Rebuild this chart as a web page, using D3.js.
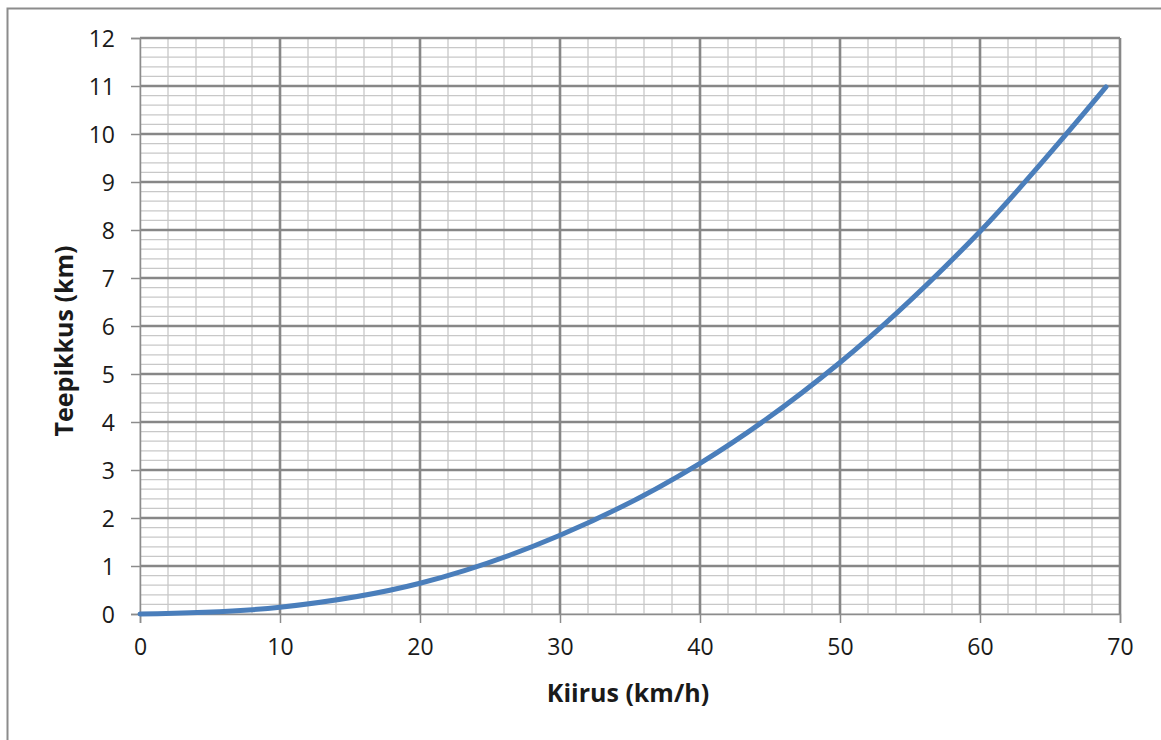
<!DOCTYPE html>
<html>
<head>
<meta charset="utf-8">
<script src="https://cdn.jsdelivr.net/npm/d3@7"></script>
<style>
  body { margin: 0; background: #fff; }
  svg { display: block; font-family: "Open Sans", sans-serif; }
</style>
</head>
<body>
<svg width="1161" height="740"></svg>
<script>
// speed (km/h) and distance (km)
var speeds = [0, 10, 20, 30, 40, 50, 60, 69];
var distances = [0.0, 0.14, 0.64, 1.64, 3.14, 5.24, 7.97, 10.98];
var xTicks = [0, 10, 20, 30, 40, 50, 60, 70];
var yTicks = [0, 1, 2, 3, 4, 5, 6, 7, 8, 9, 10, 11, 12];
var xTitle = "Kiirus (km/h)";
var yTitle = "Teepikkus (km)";

var data = speeds.map(function(s, i) { return {x: s, y: distances[i]}; });

var svg = d3.select("svg"),
    margin = {top: 38, right: 41, bottom: 126, left: 140},
    width = +svg.attr("width") - margin.left - margin.right,
    height = +svg.attr("height") - margin.top - margin.bottom;

// chart frame
svg.append("rect")
    .attr("x", 7.5).attr("y", 8.5)
    .attr("width", 1200).attr("height", 800)
    .attr("fill", "none")
    .attr("stroke", "#8c8c8c")
    .attr("stroke-width", 2);

var x = d3.scaleLinear().domain([0, 70]).range([0, width]);
var y = d3.scaleLinear().domain([0, 12]).range([height, 0]);

var g = svg.append("g")
    .attr("transform", "translate(" + margin.left + "," + margin.top + ")");

// minor grid
var xMinor = d3.range(0, 70.01, 2);
var yMinor = d3.range(0, 12.01, 0.2);

g.append("g").selectAll("line")
    .data(yMinor)
    .enter().append("line")
        .attr("x1", 0).attr("x2", width)
        .attr("y1", function(d) { return y(d); })
        .attr("y2", function(d) { return y(d); })
        .attr("stroke", "#c8c8c8")
        .attr("stroke-width", 1.3);

g.append("g").selectAll("line")
    .data(xMinor)
    .enter().append("line")
        .attr("y1", 0).attr("y2", height)
        .attr("x1", function(d) { return x(d); })
        .attr("x2", function(d) { return x(d); })
        .attr("stroke", "#c8c8c8")
        .attr("stroke-width", 1.3);

// major grid
g.append("g").selectAll("line")
    .data(yTicks.slice(1))
    .enter().append("line")
        .attr("x1", 0).attr("x2", width)
        .attr("y1", function(d) { return y(d); })
        .attr("y2", function(d) { return y(d); })
        .attr("stroke", "#878787")
        .attr("stroke-width", 2.6);

g.append("g").selectAll("line")
    .data(xTicks.slice(1))
    .enter().append("line")
        .attr("y1", 0).attr("y2", height)
        .attr("x1", function(d) { return x(d); })
        .attr("x2", function(d) { return x(d); })
        .attr("stroke", "#878787")
        .attr("stroke-width", 2.6);

// axes
var xAxis = g.append("g")
    .attr("transform", "translate(0," + height + ")")
    .call(d3.axisBottom(x).tickValues(xTicks).tickSize(9).tickPadding(16));

var yAxis = g.append("g")
    .call(d3.axisLeft(y).tickValues(yTicks).tickSize(9).tickPadding(16));

[xAxis, yAxis].forEach(function(a) {
    a.select(".domain").attr("stroke", "#8c8c8c").attr("stroke-width", 1.5);
    a.selectAll(".tick line").attr("stroke", "#8c8c8c").attr("stroke-width", 1.5);
    a.selectAll("text")
        .attr("fill", "#1a1a1a")
        .style("font-size", "23px")
        .style("font-family", "'Open Sans', sans-serif");
});
yAxis.selectAll("text").attr("dy", "0.36em");

// line
var line = d3.line()
    .x(function(d) { return x(d.x); })
    .y(function(d) { return y(d.y); })
    .curve(d3.curveCatmullRom.alpha(0.5));

g.append("path")
    .datum(data)
    .attr("fill", "none")
    .attr("stroke", "#4a7ebb")
    .attr("stroke-width", 5)
    .attr("stroke-linecap", "round")
    .attr("d", line);

// axis titles
svg.append("text")
    .attr("x", 628).attr("y", 702)
    .attr("text-anchor", "middle")
    .attr("fill", "#1a1a1a")
    .style("font-size", "25px")
    .style("font-weight", "bold")
    .text(xTitle);

svg.append("text")
    .attr("transform", "translate(73,341) rotate(-90)")
    .attr("text-anchor", "middle")
    .attr("fill", "#1a1a1a")
    .style("font-size", "25px")
    .style("font-weight", "bold")
    .text(yTitle);
</script>
</body>
</html>
